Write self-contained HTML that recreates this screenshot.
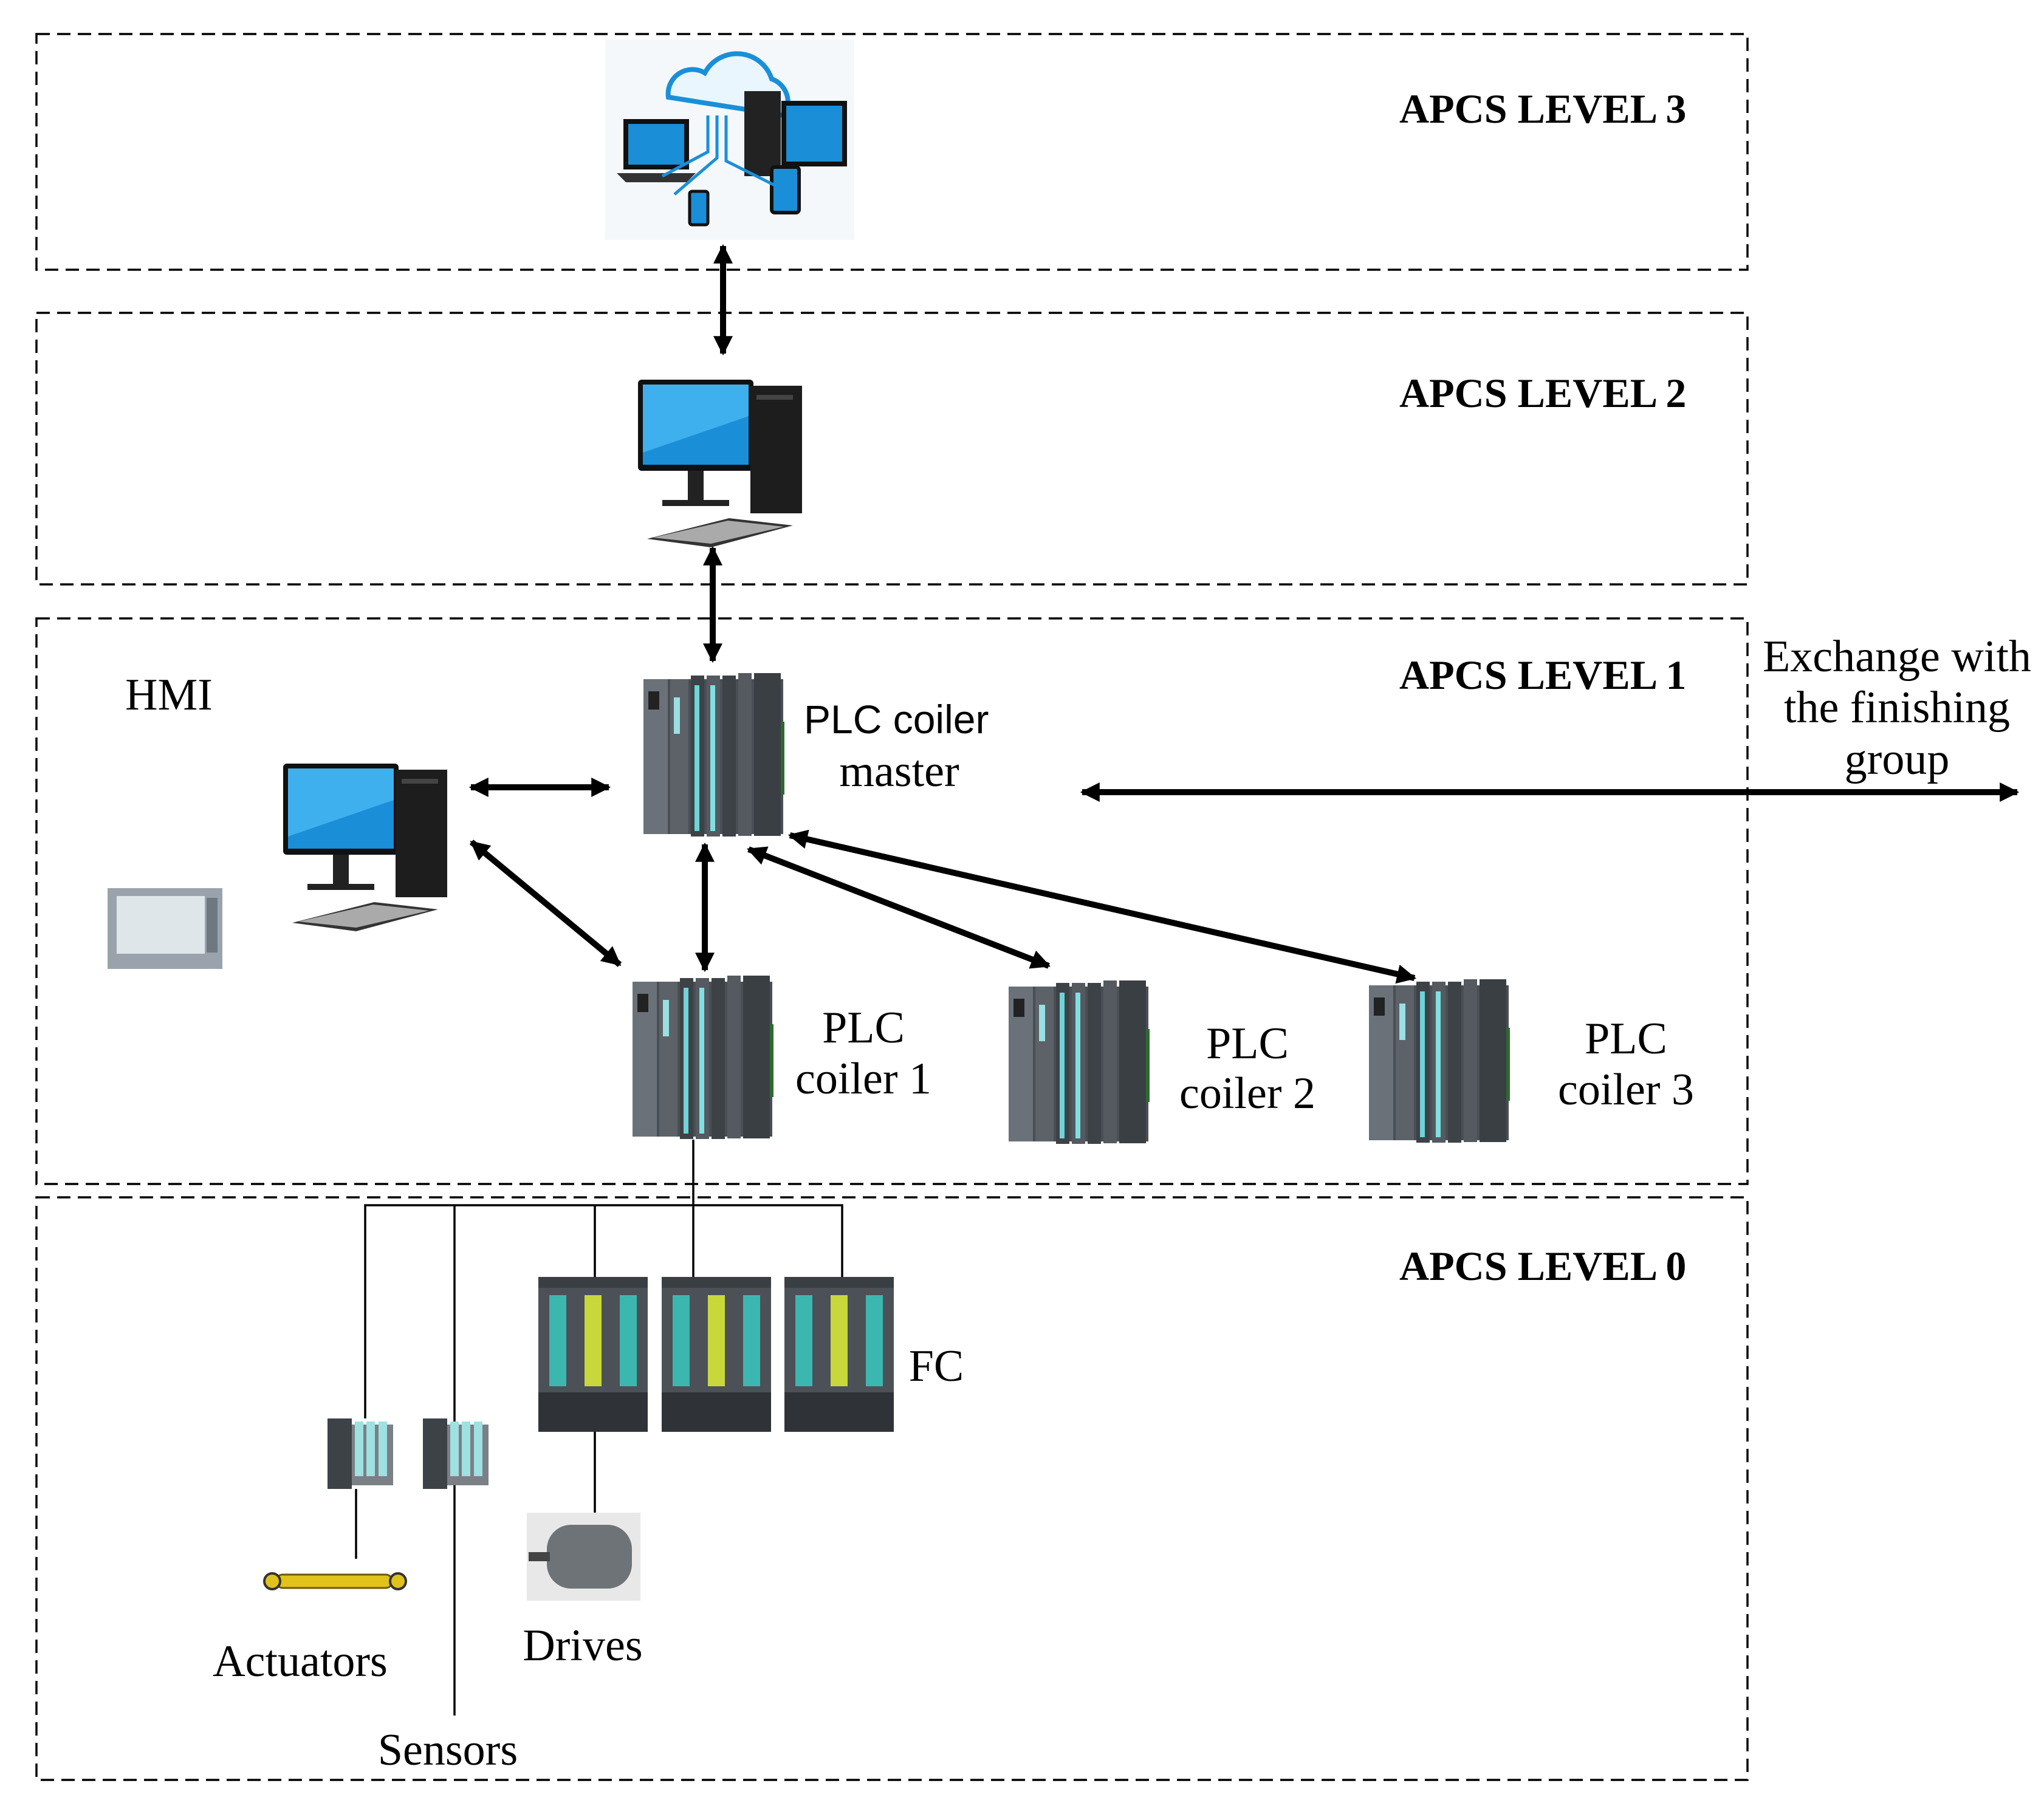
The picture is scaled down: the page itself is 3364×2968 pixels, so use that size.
<!DOCTYPE html>
<html><head><meta charset="utf-8"><style>
html,body{margin:0;padding:0;background:#fff}
svg{display:block}
.lv{font-family:"Liberation Serif",serif;font-weight:bold;font-size:68px;fill:#000}
.t{font-family:"Liberation Serif",serif;font-size:74px;fill:#000;text-anchor:middle}
.s{font-family:"Liberation Sans",sans-serif;font-size:66px;fill:#000}
</style></head><body>
<svg width="3364" height="2968" viewBox="0 0 3364 2968" xmlns="http://www.w3.org/2000/svg">
<defs>
<marker id="a" viewBox="0 0 10 10" refX="9" refY="5" markerWidth="3.2" markerHeight="3.2" orient="auto-start-reverse" markerUnits="strokeWidth"><path d="M0,0L10,5L0,10z" fill="#000"/></marker>
<g id="plc">
<rect x="0" y="10" width="230" height="255" fill="#4a4f55"/>
<rect x="0" y="10" width="40" height="255" fill="#6b7178"/>
<rect x="44" y="10" width="30" height="255" fill="#5c6268"/>
<rect x="78" y="4" width="22" height="265" fill="#3d4247"/>
<rect x="84" y="20" width="8" height="240" fill="#6fd3d8"/>
<rect x="104" y="4" width="22" height="265" fill="#555a60"/>
<rect x="110" y="20" width="8" height="240" fill="#7fe0e4"/>
<rect x="130" y="4" width="22" height="265" fill="#3d4247"/>
<rect x="156" y="0" width="22" height="268" fill="#555a60"/>
<rect x="182" y="0" width="44" height="268" fill="#3a3f44"/>
<rect x="8" y="30" width="18" height="30" fill="#222"/>
<rect x="50" y="40" width="10" height="60" fill="#9adfe2"/>
<rect x="226" y="80" width="6" height="120" fill="#2e6a2e"/>
</g>
<g id="pc">
<rect x="0" y="0" width="190" height="150" rx="6" fill="#111"/>
<rect x="8" y="8" width="174" height="132" fill="#1a8fd8"/>
<path d="M8,8L182,8L182,60L8,120z" fill="#3fb0ee"/>
<rect x="82" y="150" width="26" height="50" fill="#222"/>
<rect x="40" y="198" width="110" height="10" fill="#222"/>
<rect x="185" y="10" width="85" height="210" fill="#1d1d1d"/>
<rect x="195" y="25" width="60" height="8" fill="#444"/>
<path d="M15,262L150,228L255,240L120,276z" fill="#333"/>
<path d="M25,260L148,232L240,242L120,270z" fill="#aaa"/>
</g>
<g id="fc">
<rect x="0" y="0" width="180" height="255" fill="#4b5157"/>
<rect x="0" y="0" width="180" height="18" fill="#3a3f44"/>
<rect x="18" y="30" width="28" height="150" fill="#3bb7b0"/>
<rect x="76" y="30" width="28" height="150" fill="#c8d83a"/>
<rect x="134" y="30" width="28" height="150" fill="#3bb7b0"/>
<rect x="0" y="190" width="180" height="65" fill="#2f3337"/>
</g>
<g id="io">
<rect x="0" y="10" width="108" height="100" fill="#7a8086"/>
<rect x="0" y="0" width="40" height="116" fill="#3d4247"/>
<rect x="45" y="5" width="14" height="90" fill="#9fe0e0"/>
<rect x="64" y="5" width="14" height="90" fill="#9fe0e0"/>
<rect x="84" y="5" width="14" height="90" fill="#9fe0e0"/>
</g>
</defs>

<g fill="none" stroke="#000" stroke-width="3.5" stroke-dasharray="22,12">
<rect x="60" y="56" width="2816" height="388"/>
<rect x="60" y="515" width="2816" height="447"/>
<rect x="60" y="1018" width="2816" height="931"/>
<rect x="60" y="1971" width="2816" height="959"/>
</g>

<text class="lv" x="2303" y="202">APCS LEVEL 3</text>
<text class="lv" x="2303" y="670">APCS LEVEL 2</text>
<text class="lv" x="2303" y="1134">APCS LEVEL 1</text>
<text class="lv" x="2303" y="2107">APCS LEVEL 0</text>

<g>
<rect x="996" y="65" width="410" height="330" fill="#f4f8fb"/>
<path d="M1100,160 a40,40 0 0 1 60,-40 a60,60 0 0 1 110,10 a40,40 0 0 1 20,60 z" fill="#eaf6fd" stroke="#1a8fd8" stroke-width="8"/>
<rect x="1225" y="150" width="60" height="140" fill="#222"/>
<rect x="1290" y="170" width="100" height="100" fill="#1a8fd8" stroke="#111" stroke-width="8"/>
<rect x="1030" y="200" width="100" height="75" fill="#1a8fd8" stroke="#111" stroke-width="8"/>
<path d="M1015,285L1145,285L1130,300L1030,300z" fill="#333"/>
<rect x="1270" y="275" width="45" height="75" rx="5" fill="#1a8fd8" stroke="#111" stroke-width="6"/>
<rect x="1135" y="315" width="30" height="55" rx="4" fill="#1a8fd8" stroke="#111" stroke-width="5"/>
<path d="M1180,190V260L1110,320M1195,190V265L1285,310M1165,190V250L1090,290" fill="none" stroke="#1a8fd8" stroke-width="5"/>
</g>

<g stroke="#000" stroke-width="10" fill="none">
<line x1="1190" y1="405" x2="1190" y2="582" marker-start="url(#a)" marker-end="url(#a)"/>
<line x1="1173" y1="902" x2="1173" y2="1088" marker-start="url(#a)" marker-end="url(#a)"/>
<line x1="775" y1="1296" x2="1002" y2="1296" marker-start="url(#a)" marker-end="url(#a)"/>
<line x1="776" y1="1386" x2="1020" y2="1588" marker-start="url(#a)" marker-end="url(#a)"/>
<line x1="1160" y1="1390" x2="1160" y2="1597" marker-start="url(#a)" marker-end="url(#a)"/>
<line x1="1232" y1="1398" x2="1726" y2="1590" marker-start="url(#a)" marker-end="url(#a)"/>
<line x1="1300" y1="1375" x2="2328" y2="1610" marker-start="url(#a)" marker-end="url(#a)"/>
<line x1="1781" y1="1304" x2="3320" y2="1304" marker-start="url(#a)" marker-end="url(#a)"/>
</g>

<use href="#pc" x="1050" y="625"/>
<use href="#pc" x="466" y="1257"/>
<use href="#plc" x="1059" y="1108"/>
<use href="#plc" x="1041" y="1606"/>
<use href="#plc" x="1660" y="1614"/>
<use href="#plc" x="2253" y="1612"/>

<rect x="177" y="1462" width="189" height="133" fill="#9aa3ac"/>
<rect x="192" y="1475" width="145" height="95" fill="#dfe6ea"/>
<rect x="340" y="1478" width="18" height="90" fill="#6f7780"/>

<text class="t" x="278" y="1168">HMI</text>
<text class="s" x="1323" y="1207">PLC coiler</text>
<text class="t" x="1480" y="1294">master</text>
<text class="t" x="3122" y="1105">Exchange with</text>
<text class="t" x="3122" y="1189">the finishing</text>
<text class="t" x="3122" y="1274">group</text>
<text class="t" x="1421" y="1716">PLC</text>
<text class="t" x="1421" y="1800">coiler 1</text>
<text class="t" x="2053" y="1742">PLC</text>
<text class="t" x="2053" y="1824">coiler 2</text>
<text class="t" x="2676" y="1734">PLC</text>
<text class="t" x="2676" y="1818">coiler 3</text>

<g stroke="#000" stroke-width="3.5" fill="none">
<path d="M1141,1876V2102M601,2335V1984H1386V2102M748,1984V2824M979,1984V2102M979,2357V2490M586,2451V2566"/>
</g>
<use href="#fc" x="886" y="2102"/>
<use href="#fc" x="1089" y="2102"/>
<use href="#fc" x="1291" y="2102"/>
<use href="#io" x="539" y="2335"/>
<use href="#io" x="696" y="2335"/>
<text class="t" x="1541" y="2273">FC</text>

<rect x="455" y="2592" width="190" height="22" rx="10" fill="#e0c21a" stroke="#6b5a00" stroke-width="3"/>
<circle cx="448" cy="2603" r="13" fill="#e0c21a" stroke="#333" stroke-width="4"/>
<circle cx="655" cy="2603" r="13" fill="#e0c21a" stroke="#333" stroke-width="4"/>
<rect x="867" y="2490" width="187" height="145" fill="#e8e8e8"/>
<rect x="900" y="2510" width="140" height="105" rx="40" fill="#6e7378"/>
<rect x="870" y="2555" width="35" height="15" fill="#444"/>

<text class="t" x="494" y="2759">Actuators</text>
<text class="t" x="959" y="2733">Drives</text>
<text class="t" x="737" y="2905">Sensors</text>
</svg>
</body></html>
